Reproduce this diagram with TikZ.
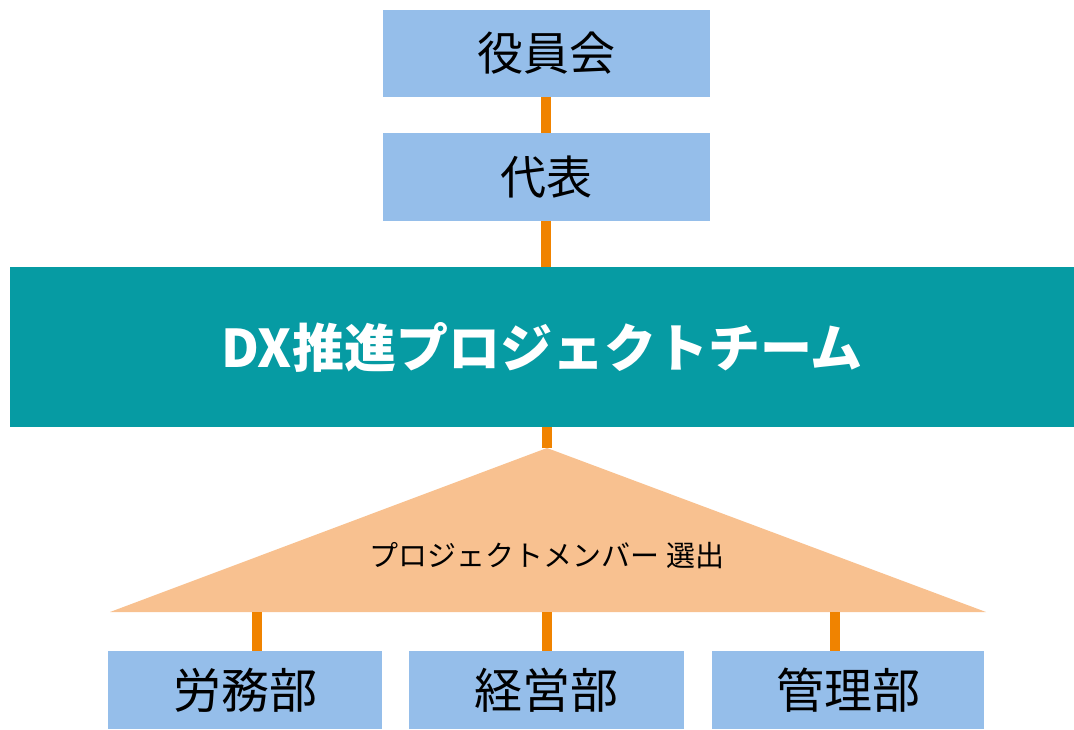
\documentclass[tikz,border=0pt]{standalone}
\usepackage{fontspec}
\newfontfamily\jp{Noto Sans CJK JP}
\definecolor{boxblue}{RGB}{149,190,234}
\definecolor{teamteal}{RGB}{6,155,163}
\definecolor{linkorange}{RGB}{240,131,0}
\definecolor{trifill}{RGB}{248,193,144}
\begin{document}
\begin{tikzpicture}[x=1pt,y=-1pt,
  bluebox/.style={fill=boxblue,draw=none,inner sep=0pt,font=\jp\fontsize{46}{52}\selectfont},
  link/.style={draw=linkorange,line width=10pt}]
\useasboundingbox (0,0) rectangle (1074,729);
\node[bluebox,minimum width=327pt,minimum height=87pt] (board) at (546,53) {役員会};
\node[bluebox,minimum width=327pt,minimum height=88pt] (rep) at (546,177) {代表};
\node[fill=teamteal,draw=none,inner sep=0pt,minimum width=1064pt,minimum height=160pt,text=white,font=\jp\bfseries\fontsize{52}{58}\selectfont] (team) at (542,347) {DX推進プロジェクトチーム};
\coordinate (apex) at (547,448);
\coordinate (bl) at (110,612);
\coordinate (br) at (986,612);
\fill[trifill] (apex) -- (br) -- (bl) -- cycle;
\node[font=\jp\fontsize{29}{32}\selectfont,inner sep=0pt] (sel) at (547,556) {プロジェクトメンバー 選出};
\node[bluebox,minimum width=274pt,minimum height=78pt,font=\jp\fontsize{48}{52}\selectfont] (d1) at (245,690) {労務部};
\node[bluebox,minimum width=275pt,minimum height=78pt,font=\jp\fontsize{48}{52}\selectfont] (d2) at (546.5,690) {経営部};
\node[bluebox,minimum width=272pt,minimum height=78pt,font=\jp\fontsize{48}{52}\selectfont] (d3) at (848,690) {管理部};
\coordinate (c1) at (257,612);
\coordinate (c2) at (547,612);
\coordinate (c3) at (835,612);
\draw[link] (board.south) -- (rep.north);
\draw[link] (rep.south) -- (team.north -| rep.south);
\draw[link] (team.south -| apex) -- (apex);
\draw[link] (c1) -- (c1 |- d1.north);
\draw[link] (c2) -- (c2 |- d2.north);
\draw[link] (c3) -- (c3 |- d3.north);
\end{tikzpicture}
\end{document}
